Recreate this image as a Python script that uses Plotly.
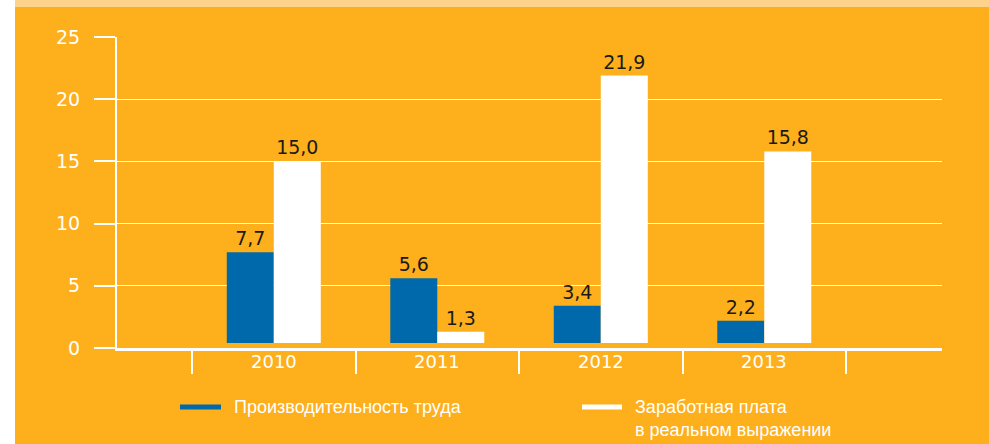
import plotly.graph_objects as go

years = ["2010", "2011", "2012", "2013"]
productivity = [7.7, 5.6, 3.4, 2.2]
wages = [15.0, 1.3, 21.9, 15.8]
y_ticks = [0, 5, 10, 15, 20, 25]
legend_names = ["Производительность труда", "Заработная плата<br>в реальном выражении"]

ORANGE = "#FDAF1C"
BLUE = "#0069AB"
BASE = 0.4
FONT = "Liberation Sans, Arial, sans-serif"
NUMFONT = "DejaVu Sans, sans-serif"

x = list(range(len(years)))

def fmt(v):
    return f"{v:.1f}".replace(".", ",")

fig = go.Figure()
for vals, color, name in [(productivity, BLUE, legend_names[0]), (wages, "#FFFFFF", legend_names[1])]:
    fig.add_trace(go.Bar(
        x=x, y=[v - BASE for v in vals], base=BASE,
        marker=dict(color=color, line=dict(width=0)),
        text=[fmt(v) for v in vals], textposition="outside",
        textfont=dict(color="#1A1A1A", size=19, family=NUMFONT),
        constraintext="none", cliponaxis=False, name=name, showlegend=False,
    ))

# plot area pixel geometry helpers for legend / decoration
L, R, T, B = 117, 47, 37, 96
W, H = 989, 444
pw, ph = W - L - R, H - T - B
def px(xp): return (xp - L) / pw
def py(yp): return (H - B - yp) / ph

shapes = [
    dict(type="rect", xref="paper", yref="paper", x0=px(0), x1=px(15), y0=py(H), y1=py(0),
         fillcolor="#FFFFFF", line=dict(width=0), layer="below"),
    dict(type="rect", xref="paper", yref="paper", x0=px(15), x1=px(W), y0=py(7), y1=py(0),
         fillcolor="#FDD38C", line=dict(width=0), layer="below"),
    dict(type="line", xref="paper", yref="paper", x0=px(180), x1=px(221), y0=py(407), y1=py(407),
         line=dict(color=BLUE, width=5)),
    dict(type="line", xref="paper", yref="paper", x0=px(582), x1=px(622), y0=py(407), y1=py(407),
         line=dict(color="#FFFFFF", width=5)),
]
annotations = [
    dict(xref="paper", yref="paper", x=px(232), y=py(407), text=legend_names[0], showarrow=False,
         xanchor="left", yanchor="middle", font=dict(color="#FFFFFF", size=18, family=FONT)),
    dict(xref="paper", yref="paper", x=px(633), y=py(418), text=legend_names[1], showarrow=False,
         xanchor="left", yanchor="middle", align="left", font=dict(color="#FFFFFF", size=18, family=FONT)),
]
for xi, yr in zip(x, years):
    annotations.append(dict(xref="x", yref="paper", x=xi, y=py(361), text=yr, showarrow=False,
                            xanchor="center", yanchor="middle",
                            font=dict(color="#FFFFFF", size=18, family=NUMFONT)))

fig.update_layout(
    width=W, height=H,
    margin=dict(l=L, r=R, t=T, b=B),
    paper_bgcolor=ORANGE, plot_bgcolor="rgba(0,0,0,0)",
    barmode="group", bargap=0.425, bargroupgap=0,
    shapes=shapes, annotations=annotations,
    font=dict(family=FONT),
    xaxis=dict(
        range=[-0.959, 4.087], tickmode="array", tickvals=x, ticktext=["" for _ in years],
        ticks="", showgrid=False, zeroline=False,
        showline=True, linecolor="#FFFFFF", linewidth=3,
        minor=dict(tickmode="array", tickvals=[i - 0.5 for i in range(len(years) + 1)],
                   ticks="outside", ticklen=23, tickwidth=1.5, tickcolor="#FFFFFF"),
    ),
    yaxis=dict(
        range=[0, 25], tickmode="array", tickvals=y_ticks,
        ticks="outside", ticklen=21, tickwidth=1.5, tickcolor="#FFFFFF",
        showgrid=True, gridcolor="#FFFFFF", gridwidth=1.2, zeroline=False,
        showline=True, linecolor="#FFFFFF", linewidth=2,
        tickfont=dict(color="#FFFFFF", size=19, family=NUMFONT),
        ticklabelstandoff=10,
    ),
)

fig.write_html("out.html")
